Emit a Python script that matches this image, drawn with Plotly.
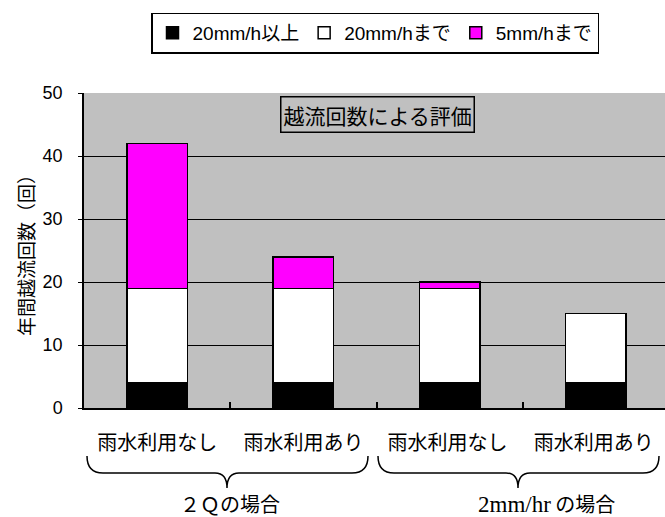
import plotly.graph_objects as go

categories = ["雨水利用なし", "雨水利用あり", "雨水利用なし ", "雨水利用あり "]
over20 = [4, 4, 4, 4]
upto20 = [15, 15, 15, 11]
upto5 = [23, 5, 1, 0]
series_names = ["20mm/h以上", "20mm/hまで", "5mm/hまで"]
series_colors = ["#000000", "#FFFFFF", "#FF00FF"]
y_ticks = [0, 10, 20, 30, 40, 50]

FONT = "Liberation Sans, Arial, Noto Sans CJK JP, sans-serif"

fig = go.Figure()
for name, vals, col in zip(series_names, [over20, upto20, upto5], series_colors):
    fig.add_trace(go.Bar(
        x=categories, y=vals, name=name,
        marker=dict(color=col, line=dict(color="black", width=1.5)),
        width=0.415,
    ))

W, H = 665, 517
L, R, T, B = 84, 0, 93, 109
pw = W - L - R
ph = H - T - B

def px_x(p):
    return (p - L) / pw

def px_y(p):
    return (H - B - p) / ph

def brace(xl, xr, xc, ytop, ymid, ypt):
    d = 16 / pw
    dc = 12 / pw
    return (f"M{xl},{ytop} Q{xl},{ymid} {xl + d},{ymid} L{xc - dc},{ymid} "
            f"Q{xc},{ymid} {xc},{ypt} Q{xc},{ymid} {xc + dc},{ymid} "
            f"L{xr - d},{ymid} Q{xr},{ymid} {xr},{ytop}")

ytop, ymid, ypt = px_y(456), px_y(473), px_y(488)
shapes = [
    dict(type="path", xref="paper", yref="paper",
         path=brace(px_x(87), px_x(368), px_x(227), ytop, ymid, ypt),
         line=dict(color="black", width=1.5)),
    dict(type="path", xref="paper", yref="paper",
         path=brace(px_x(378), px_x(659), px_x(518), ytop, ymid, ypt),
         line=dict(color="black", width=1.5)),
]

annotations = [
    dict(text="越流回数による評価", xref="paper", yref="paper",
         x=px_x(377.5), y=px_y(114.5), xanchor="center", yanchor="middle",
         showarrow=False, bgcolor="#C0C0C0", bordercolor="black", borderwidth=1.5,
         borderpad=2, font=dict(family="Noto Sans CJK JP", size=21, color="black")),
    dict(text="２Ｑの場合", xref="paper", yref="paper",
         x=px_x(230), y=px_y(503), xanchor="center", yanchor="middle",
         showarrow=False, font=dict(family="Noto Sans CJK JP", size=20, color="black")),
    dict(text="<span style='font-family:Liberation Serif;font-size:23px'>2mm/hr</span> の場合",
         xref="paper", yref="paper",
         x=px_x(546), y=px_y(503), xanchor="center", yanchor="middle",
         showarrow=False, font=dict(family="Noto Sans CJK JP", size=20, color="black")),
]

fig.update_layout(
    width=W, height=H,
    margin=dict(l=L, r=R, t=T, b=B, pad=0, autoexpand=False),
    barmode="stack",
    plot_bgcolor="#C0C0C0",
    paper_bgcolor="white",
    font=dict(family=FONT, size=16, color="black"),
    showlegend=True,
    legend=dict(orientation="h", x=px_x(375), y=px_y(33), xanchor="center", yanchor="middle",
                bordercolor="black", borderwidth=1.5, bgcolor="white",
                font=dict(family=FONT, size=19, color="black"), traceorder="normal"),
    shapes=shapes,
    annotations=annotations,
    bargap=0.585,
)
fig.update_xaxes(
    range=[-0.5, 3.5 - 4 / 146.25],
    showline=True, linecolor="black", linewidth=1.5,
    ticks="inside", ticklen=6, tickcolor="black", tickwidth=1.5,
    tickson="boundaries", showgrid=False, automargin=False,
    tickfont=dict(family="Noto Sans CJK JP", size=20),
    ticklabelstandoff=16,
)
fig.update_yaxes(
    range=[0, 50], tickvals=y_ticks,
    showline=True, linecolor="black", linewidth=1.5,
    ticks="outside", ticklen=4, tickcolor="black",
    showgrid=True, gridcolor="black", gridwidth=1,
    zeroline=False, automargin=False,
    tickfont=dict(family=FONT, size=18),
    ticklabelstandoff=12,
    title=dict(text="年間越流回数（回）", font=dict(family="Noto Sans CJK JP", size=19), standoff=3),
)

fig.write_html("out.html", config={"displayModeBar": False},
               post_script="document.body.style.margin='0px';document.body.style.padding='0px';")
